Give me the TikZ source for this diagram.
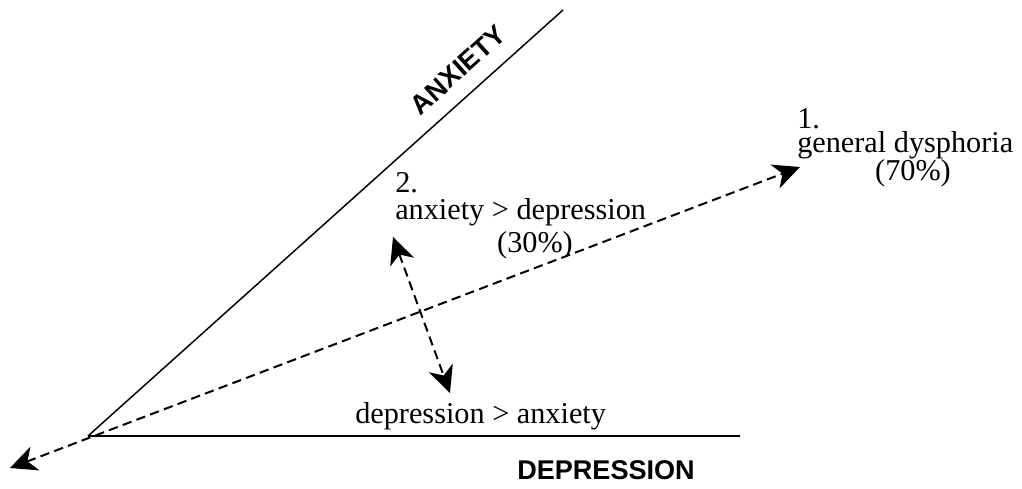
\documentclass[tikz,border=0pt]{standalone}
\usepackage{fontspec}
\setmainfont{Liberation Serif}
\newfontfamily\capsfont{Liberation Sans}
\usetikzlibrary{arrows.meta}
\tikzset{
  axisline/.style={line width=1.1pt, black},
  bigtip/.tip={Stealth[length=20pt,width=19pt,inset=6pt]},
  dasharrow/.style={line width=1.5pt, dash pattern=on 7pt off 4pt, bigtip-bigtip},
  lbl/.style={inner sep=0pt, font=\fontsize{22.7pt}{24pt}\selectfont},
  axislbl/.style={inner sep=0pt, font=\capsfont\bfseries\fontsize{20.3pt}{22pt}\selectfont},
}
\begin{document}
\begin{tikzpicture}[x=0.75pt,y=-0.75pt]
\useasboundingbox (0,0) rectangle (1022,489);
% axes
\coordinate (O) at (88,436);
\coordinate (Aend) at (563,10);
\coordinate (Dend) at (740,436);
\draw[axisline] (O) -- (Aend);
\draw[axisline] (O) -- (Dend);
% axis labels
\node[axislbl, rotate=41.9] (anx) at (458,70) {ANXIETY};
\node[axislbl, anchor=base west] (dep) at (517,479) {DEPRESSION};
% arrows
\coordinate (L1) at (10,468);
\coordinate (L2) at (800,167);
\draw[dasharrow] (L1) -- (L2);
\coordinate (S1) at (393,237);
\coordinate (S2) at (450,393);
\draw[dasharrow] (S1) -- (S2);
% labels
\node[lbl, anchor=base west] (n1a) at (797,128) {1.};
\node[lbl, anchor=base west] (n1b) at (797,152) {general dysphoria};
\node[lbl, anchor=base] (n1c) at (913,180) {(70\%)};
\node[lbl, anchor=base west] (n2a) at (395,192) {2.};
\node[lbl, anchor=base west] (n2b) at (395,219) {anxiety > depression};
\node[lbl, anchor=base] (n2c) at (535,252) {(30\%)};
\node[lbl, anchor=base west] (n3) at (355,423) {depression > anxiety};
\end{tikzpicture}
\end{document}
